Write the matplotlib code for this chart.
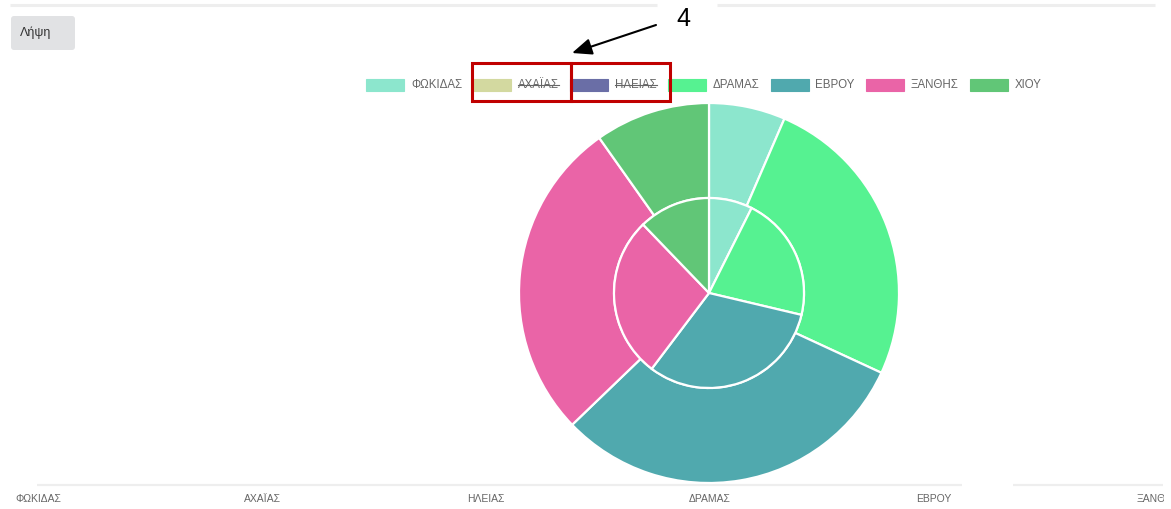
import matplotlib.pyplot as plt
from matplotlib.patches import Rectangle, FancyBboxPatch

# =========================
# Data
# =========================
labels = ["ΦΩΚΙΔΑΣ", "ΑΧΑΪΑΣ", "ΗΛΕΙΑΣ", "ΔΡΑΜΑΣ", "ΕΒΡΟΥ", "ΞΑΝΘΗΣ", "ΧΙΟΥ"]
colors = ["#8ce6cd", "#d3d9a0", "#6a6ea6", "#56f291", "#50a9ae", "#ea64a7", "#61c677"]
hidden = [False, True, True, False, False, False, False]
outer_values = [6.5, 0, 0, 25.4, 30.9, 27.4, 9.8]
inner_values = [7.4, 0, 0, 21.3, 31.6, 27.5, 12.2]

W, H = 1171, 509
plt.rcParams["font.family"] = ["Liberation Sans", "DejaVu Sans"]

fig = plt.figure(figsize=(W / 100, H / 100), dpi=100)
fig.patch.set_facecolor("white")

# overlay in pixel coords (y down)
ov = fig.add_axes([0, 0, 1, 1])
ov.set_xlim(0, W)
ov.set_ylim(H, 0)
ov.axis("off")

# =========================
# Doughnut
# =========================
cx, cy, r = 709, 293, 190
pax = fig.add_axes([(cx - r) / W, (H - cy - r) / H, 2 * r / W, 2 * r / H])
vis = [i for i in range(len(labels)) if not hidden[i]]
wp = dict(edgecolor="white", linewidth=1.6)
pax.pie([outer_values[i] for i in vis], colors=[colors[i] for i in vis],
        radius=1.0, startangle=90, counterclock=False,
        wedgeprops=dict(width=0.5, **wp))
pax.pie([inner_values[i] for i in vis], colors=[colors[i] for i in vis],
        radius=0.5, startangle=90, counterclock=False, wedgeprops=wp)
pax.set_xlim(-1, 1)
pax.set_ylim(-1, 1)
pax.set_aspect("equal")
pax.axis("off")

# =========================
# Legend
# =========================
renderer = fig.canvas.get_renderer()
x = 366
ly = 85
for lab, col, hid in zip(labels, colors, hidden):
    ov.add_patch(Rectangle((x, ly - 6), 38, 12, facecolor=col,
                           edgecolor=col, linewidth=0.8))
    t = ov.text(x + 45, ly, lab, fontsize=8.3, color="#666666",
                va="center", ha="left")
    tw = t.get_window_extent(renderer).width
    if hid:
        ov.plot([x + 45, x + 45 + tw], [ly, ly], color="#666666", lw=0.8)
    x += 45 + tw + 11

# =========================
# Page decorations
# =========================
ov.plot([10, 657], [5, 5], color="#eeeeee", lw=2.2, solid_capstyle="butt")
ov.plot([717, 1155], [5, 5], color="#eeeeee", lw=2.2, solid_capstyle="butt")
ov.plot([37, 962], [485, 485], color="#eeeeee", lw=1.6, solid_capstyle="butt")
ov.plot([1013, 1163], [485, 485], color="#eeeeee", lw=1.6, solid_capstyle="butt")

ov.add_patch(FancyBboxPatch((11, 16), 64, 34, boxstyle="round,pad=0,rounding_size=3",
                            facecolor="#e1e2e4", edgecolor="none"))
ov.text(20, 33, "Λήψη", fontsize=9, color="#333333", va="center", ha="left")

# axis category labels along the bottom (last one cut by the container edge)
clip = Rectangle((0, 0), 1164, H, transform=ov.transData, visible=False)
ov.add_patch(clip)
step = 224
for i, lab in enumerate(labels):
    t = ov.text(38 + i * step, 499, lab, fontsize=7.5, color="#666666",
                ha="center", va="center", clip_on=True)
    t.set_clip_path(clip)

# annotation: red boxes, arrow and number
for x0 in (472, 571):
    ov.add_patch(Rectangle((x0, 63), 99, 38, facecolor="none",
                           edgecolor="#c00000", linewidth=2.2))
ov.annotate("", xy=(572, 53), xytext=(656, 25),
            arrowprops=dict(arrowstyle="-|>,head_length=1.2,head_width=0.5",
                            color="black", lw=1.5, shrinkA=0, shrinkB=0))
ov.text(683, 19, "4", fontsize=18, color="black", ha="center", va="center")

fig.savefig("out.png", dpi=100)
